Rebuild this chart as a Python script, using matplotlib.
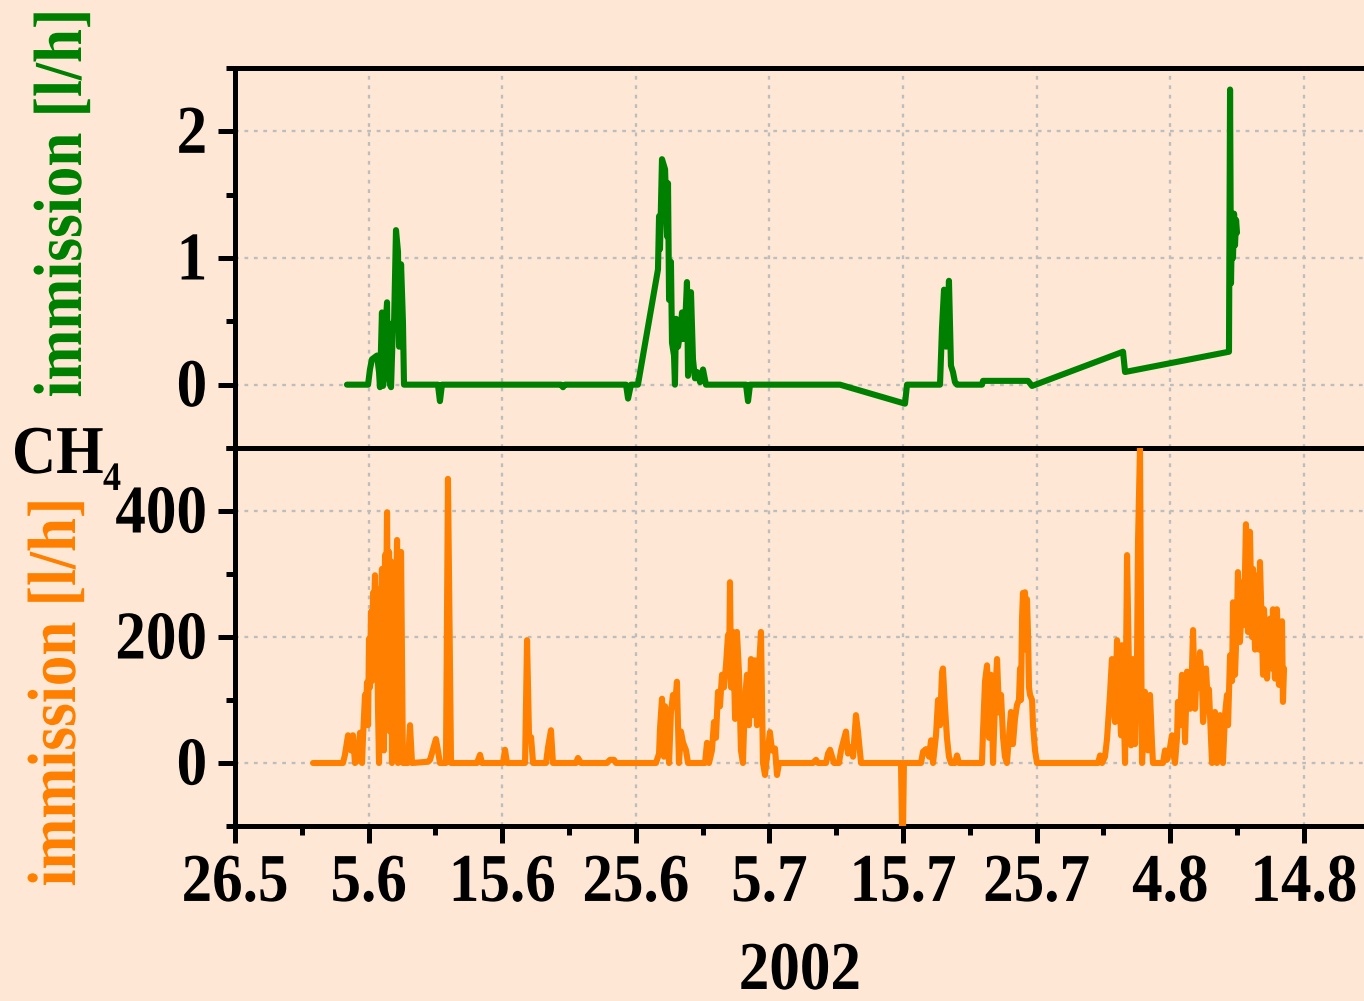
import matplotlib
matplotlib.use("Agg")
import matplotlib.pyplot as plt
from matplotlib.ticker import MultipleLocator, FuncFormatter
from matplotlib.patheffects import AbstractPathEffect
from matplotlib.transforms import Affine2D
from datetime import datetime, timedelta

# ---------------- data (days after 26 May 2002, value in l/h) ----------------
green_days = [8.38, 9.96, 10.10, 10.25, 10.63, 10.78, 10.85, 11.00, 11.08, 11.23,
              11.38, 11.45, 11.60, 11.68, 11.83, 11.90, 12.05, 12.20, 12.28, 12.43,
              12.57, 12.65, 15.19, 15.34, 15.49, 24.40, 24.55, 24.70, 29.27, 29.42,
              29.64, 30.16, 31.66, 31.74, 31.81, 31.96, 32.19, 32.34, 32.41, 32.49,
              32.63, 32.71, 32.86, 32.93, 33.01, 33.16, 33.31, 33.46, 33.53, 33.68,
              33.83, 33.91, 34.06, 34.13, 34.28, 34.43, 34.58, 34.81, 35.03, 35.25,
              38.25, 38.40, 38.55, 45.28, 50.15, 50.30, 52.77, 52.92, 53.07, 53.22,
              53.29, 53.44, 53.59, 53.74, 53.89, 54.04, 55.91, 55.99, 59.36, 59.66,
              66.47, 66.62, 74.40, 74.48, 74.55, 74.63, 74.70, 74.78, 74.85, 74.93,
              75.00]
green_vals = [0, 0, 0.12, 0.20, 0.23, 0.10, -0.02, 0.57, -0.01, 0.40,
              0.65, 0.10, 0.0, -0.02, 0.49, 0.45, 1.22, 1.05, 0.30, 0.95,
              0.50, 0, 0, -0.13, 0, 0, -0.02, 0, 0, -0.11,
              0, 0, 0.91, 1.33, 1.07, 1.78, 1.70, 1.17, 1.59, 0.67,
              0.97, 0.33, 0.23, 0.0, 0.52, 0.30, 0.40, 0.57, 0.36, 0.45,
              0.81, 0.07, 0.50, 0.73, 0.20, 0.05, 0.10, 0.02, 0.12, 0,
              0, -0.13, 0, 0, -0.15, 0, 0, 0.45, 0.75, 0.30,
              0.40, 0.82, 0.15, 0.10, 0.02, 0, 0, 0.03, 0.03, -0.01,
              0.26, 0.10, 0.26, 2.33, 0.80, 1.30, 1.00, 1.35, 1.10, 1.30,
              1.20]

orange_days = [5.84, 8.08, 8.23, 8.46, 8.68, 8.83, 8.98, 9.21, 9.36, 9.51,
               9.58, 9.73, 9.80, 9.88, 9.96, 10.03, 10.10, 10.18, 10.25, 10.33,
               10.40, 10.48, 10.55, 10.63, 10.70, 10.78, 10.85, 10.93, 11.00, 11.08,
               11.15, 11.23, 11.30, 11.38, 11.45, 11.53, 11.60, 11.68, 11.75, 11.83,
               11.90, 11.98, 12.05, 12.13, 12.20, 12.28, 12.35, 12.43, 12.57, 12.95,
               13.10, 13.25, 14.45, 14.60, 15.04, 15.19, 15.34, 15.79, 15.94, 16.17,
               18.11, 18.34, 18.49, 20.06, 20.21, 20.36, 21.71, 21.86, 22.01, 22.16,
               22.31, 23.28, 23.43, 23.65, 23.80, 25.52, 25.67, 25.90, 27.84, 28.07,
               28.37, 28.52, 31.51, 31.74, 31.81, 31.96, 32.11, 32.19, 32.34, 32.49,
               32.63, 32.78, 32.93, 33.08, 33.23, 33.38, 33.53, 33.76, 33.91, 35.18,
               35.33, 35.48, 35.70, 35.85, 36.00, 36.15, 36.30, 36.45, 36.60, 36.75,
               36.90, 36.98, 37.05, 37.13, 37.28, 37.43, 37.57, 37.72, 37.87, 38.02,
               38.17, 38.32, 38.47, 38.62, 38.77, 38.92, 39.07, 39.22, 39.37, 39.52,
               39.67, 39.82, 40.04, 40.19, 40.42, 40.57, 40.72, 43.26, 43.49, 43.64,
               44.24, 44.39, 44.54, 44.69, 44.84, 45.21, 45.36, 45.73, 45.88, 46.11,
               46.26, 46.48, 46.63, 46.86, 49.85, 49.93, 50.00, 50.07, 51.35, 51.50,
               51.72, 51.95, 52.10, 52.25, 52.47, 52.62, 52.77, 52.92, 52.99, 53.14,
               53.29, 53.44, 53.59, 53.89, 54.04, 54.19, 55.91, 55.99, 56.14, 56.29,
               56.44, 56.59, 56.74, 56.89, 57.04, 57.19, 57.34, 57.49, 57.63, 57.78,
               57.93, 58.08, 58.23, 58.38, 58.53, 58.68, 58.76, 58.83, 58.91, 58.98,
               59.06, 59.13, 59.21, 59.28, 59.36, 59.43, 59.51, 59.66, 59.73, 59.88,
               60.03, 64.60, 64.75, 64.90,
               65.12, 65.27, 65.49, 65.64, 65.79, 65.87, 66.02, 66.17, 66.32, 66.39,
               66.54, 66.62, 66.77, 66.92, 67.07, 67.22, 67.37, 67.51, 67.59, 67.74,
               67.81, 67.89, 68.04, 68.11, 68.26, 68.34, 68.49, 68.64, 68.71, 69.46,
               69.61, 69.76, 69.99, 70.13, 70.28, 70.36, 70.51, 70.58, 70.73, 70.88,
               71.03, 71.11, 71.26, 71.41, 71.48, 71.63, 71.71, 71.86, 72.01, 72.16,
               72.23, 72.38, 72.46, 72.60, 72.68, 72.83, 72.90, 73.05, 73.13, 73.28,
               73.35, 73.50, 73.65, 73.73, 73.88, 73.95, 74.10, 74.25, 74.33, 74.48,
               74.63, 74.70, 74.85, 75.00, 75.07, 75.22, 75.37, 75.45, 75.52, 75.67,
               75.82, 75.97, 76.12, 76.20, 76.35, 76.42, 76.57, 76.65, 76.72, 76.87,
               76.95, 77.02, 77.17, 77.25, 77.40, 77.47, 77.62, 77.69, 77.84, 77.99,
               78.14, 78.29, 78.37, 78.44, 78.52]
orange_vals = [0, 0, 13, 44, 20, 44, 0, 5, 48, 0,
               40, 108, 70, 128, 60, 197, 120, 240, 130, 270,
               240, 298, 150, 276, 90, 0, 160, 240, 308, 120,
               20, 330, 240, 398, 200, 335, 50, 320, 0, 300,
               150, 10, 250, 354, 0, 200, 330, 335, 0, 0,
               60, 0, 2, 5, 38, 20, 0, 0, 451, 0,
               0, 13, 0, 0, 21, 0, 0, 195, 40, 41,
               0, 0, 25, 52, 0, 0, 8, 0, 0, 5,
               5, 0, 0, 15, 54, 102, 10, 90, 70, 0,
               80, 108, 90, 129, 0, 50, 33, 20, 0, 0,
               32, 0, 20, 65, 40, 113, 90, 140, 120, 155,
               203, 150, 287, 120, 208, 70, 208, 145, 20, 0,
               100, 140, 60, 165, 76, 163, 60, 150, 208, 0,
               -19, 10, 49, 20, 23, -19, 0, 0, 5, 0,
               0, 15, 21, 10, 0, 0, 20, 50, 15, 25,
               10, 76, 50, 0, 0, -110, -110, 0, 0, 18,
               22, 10, 36, 0, 44, 100, 60, 144, 150, 90,
               40, 10, 0, 0, 12, 0, 0, 50, 130, 155,
               40, 140, 0, 100, 165, 80, 108, 40, 10, 0,
               40, 81, 30, 70, 92, 100, 150, 100, 230, 270,
               200, 271, 180, 260, 203, 120, 108, 100, 60, 20,
               0, 0, 12, 0,
               10, 38, 108, 165, 90, 65, 195, 120, 44, 187,
               70, 0, 330, 140, 28, 165, 30, 150, 350, 500,
               250, 0, 60, 113, 30, 20, 108, 30, 0, 0,
               20, 5, 25, 44, 10, 0, 40, 97, 60, 140,
               100, 33, 145, 120, 86, 150, 211, 86, 165, 120,
               176, 130, 65, 100, 150, 90, 117, 40, 0, 60,
               81, 0, 40, 76, 10, 0, 76, 108, 60, 171,
               130, 255, 140, 230, 303, 192, 260, 287, 219, 379,
               208, 367, 200, 308, 180, 250, 298, 180, 319, 200,
               140, 244, 180, 134, 200, 229, 150, 244, 134, 244,
               124, 200, 225, 97, 150]

START = datetime(2002, 5, 26)
x_limits = (0, 86)
top_ylim = (-0.5, 2.5)
bot_ylim = (-100, 500)
green_ticks = [0, 1, 2]
orange_ticks = [0, 200, 400]

# ---------------- style ----------------
BG = '#FEE8D5'
GREEN = '#008000'
ORANGE = '#FF8000'
FS = 44
plt.rcParams['font.family'] = ['Liberation Serif', 'DejaVu Serif']
plt.rcParams['font.weight'] = 'bold'


class VStretch(AbstractPathEffect):
    """Draw text glyphs stretched vertically (reference font is taller)."""
    def __init__(self, sy):
        super().__init__()
        self.sy = sy

    def draw_path(self, renderer, gc, tpath, affine, rgbFace=None):
        renderer.draw_path(gc, tpath, Affine2D().scale(1, self.sy) + affine, rgbFace)


STRETCH = [VStretch(1.12)]

W, H = 1364, 1001
fig = plt.figure(figsize=(W / 100, H / 100), dpi=100, facecolor=BG)

left = 235 / W
width = (x_limits[1] - x_limits[0]) * 13.36 / W
ax1 = fig.add_axes([left, 1 - 448 / H, width, 380 / H], facecolor=BG)
ax2 = fig.add_axes([left, 1 - 826 / H, width, 378 / H], facecolor=BG)

ax1.plot(green_days, green_vals, color=GREEN, lw=4.4, solid_joinstyle='round',
         solid_capstyle='round', zorder=3)
ax2.plot(orange_days, orange_vals, color=ORANGE, lw=4.4, solid_joinstyle='round',
         solid_capstyle='round', zorder=3)


def fmt(v, pos):
    d = START + timedelta(days=float(v))
    return f"{d.day}.{d.month}"


for ax, ylim, yt in ((ax1, top_ylim, green_ticks), (ax2, bot_ylim, orange_ticks)):
    ax.set_xlim(*x_limits)
    ax.set_ylim(*ylim)
    ax.xaxis.set_major_locator(MultipleLocator(10))
    ax.xaxis.set_minor_locator(MultipleLocator(5))
    ax.xaxis.set_major_formatter(FuncFormatter(fmt))
    ax.set_yticks(yt)
    step = yt[1] - yt[0]
    ax.yaxis.set_minor_locator(MultipleLocator(step / 2))
    ax.tick_params(which='major', direction='out', length=12, width=3.6,
                   labelsize=FS, pad=8, top=False, right=False)
    ax.tick_params(which='minor', direction='out', length=6.5, width=3.6,
                   top=False, right=False)
    ax.tick_params(axis='x', which='major', pad=11)
    for s in ('top', 'left', 'bottom'):
        ax.spines[s].set_linewidth(3.6)
    ax.spines['right'].set_visible(False)
    ax.grid(True, which='major', color='#BDBDBD', lw=1.7, linestyle=(0, (1.6, 2.4)), zorder=0)

ax1.tick_params(axis='x', labelbottom=False)

texts = [
    fig.text(66 / W, 1 - 203 / H, 'immission [l/h]', rotation=90, ha='center', va='center',
             color=GREEN, fontsize=FS, fontweight='bold'),
    fig.text(60 / W, 1 - 692 / H, 'immission [l/h]', rotation=90, ha='center', va='center',
             color=ORANGE, fontsize=FS, fontweight='bold'),
    fig.text(12 / W, 1 - 473 / H, 'CH', ha='left', va='baseline', color='black',
             fontsize=FS, fontweight='bold'),
    fig.text(103 / W, 1 - 490 / H, '4', ha='left', va='baseline', color='black',
             fontsize=26, fontweight='bold'),
    fig.text(800 / W, 1 - 974 / H, '2002', ha='center', va='center', color='black',
             fontsize=FS, fontweight='bold'),
]

fig.canvas.draw()
for ax in (ax1, ax2):
    for lab in ax.get_xticklabels() + ax.get_yticklabels():
        lab.set_fontweight('bold')
        lab.set_path_effects(STRETCH)
for t in texts:
    t.set_path_effects(STRETCH)

fig.savefig('out.png', dpi=100, facecolor=BG)
